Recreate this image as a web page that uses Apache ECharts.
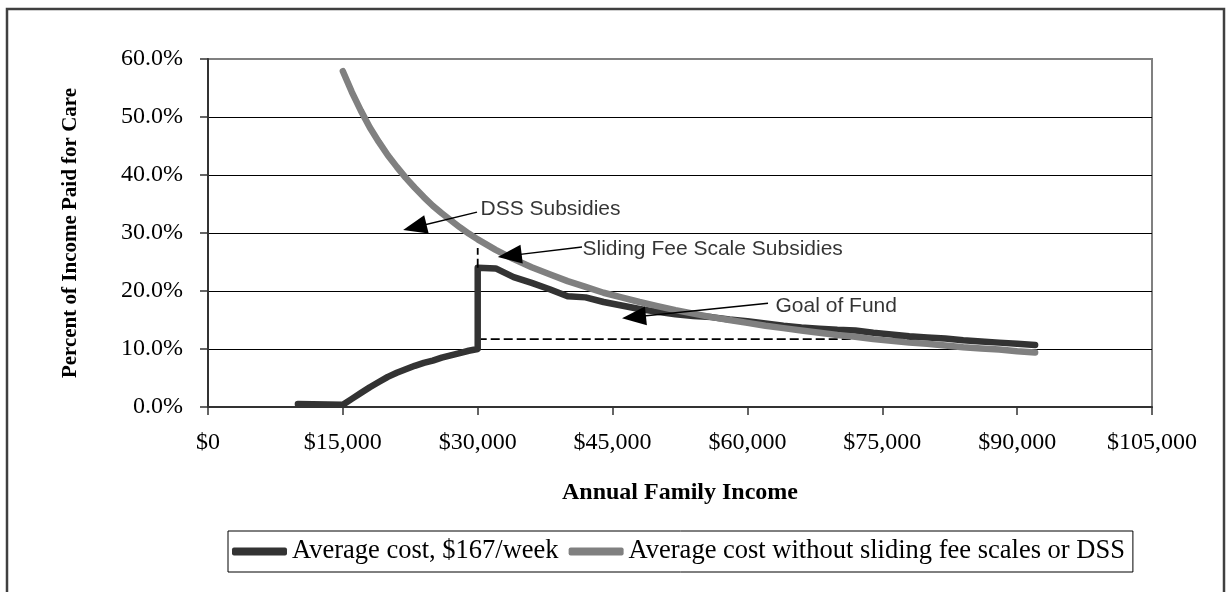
<!DOCTYPE html>
<html>
<head>
<meta charset="utf-8">
<script src="https://cdn.jsdelivr.net/npm/echarts@6/dist/echarts.min.js"></script>
<style>
  html, body { margin: 0; padding: 0; background: #ffffff; }
  #chart { width: 1231px; height: 592px; }
</style>
</head>
<body>
<div id="chart"></div>
<script>
// ---- Data ----
// Average cost, $167/week (with sliding fee scale / DSS subsidies)
const subsidizedIncome = [10000, 15000, 16000, 17000, 18000, 19000, 20000, 21000, 22000, 23000, 24000, 25000, 26000, 27000, 28000, 29000, 30000,
  30000, 32000, 34000, 36000, 38000, 40000, 42000, 44000, 46000, 48000, 50000, 52000, 54000, 56000, 58000, 60000,
  62000, 64000, 66000, 68000, 70000, 72000, 74000, 76000, 78000, 80000, 82000, 84000, 86000, 88000, 90000, 92000];
const subsidizedPct = [0.5, 0.4, 1.4, 2.4, 3.4, 4.3, 5.2, 5.9, 6.5, 7.1, 7.6, 8.0, 8.5, 8.9, 9.3, 9.7, 10.0,
  24.0, 23.9, 22.4, 21.4, 20.3, 19.1, 18.9, 18.1, 17.5, 16.9, 16.4, 16.0, 15.7, 15.5, 15.1, 14.8,
  14.4, 14.0, 13.7, 13.5, 13.3, 13.2, 12.8, 12.5, 12.2, 12.0, 11.8, 11.5, 11.3, 11.1, 10.9, 10.7];

// Average cost without sliding fee scales or DSS
const fullCostIncome = [15000, 16000, 17000, 18000, 19000, 20000, 21000, 22000, 23000, 24000, 25000, 26000, 27000, 28000, 29000, 30000,
  32000, 34000, 36000, 38000, 40000, 42000, 44000, 46000, 48000, 50000, 52000, 54000, 56000, 58000, 60000,
  62000, 64000, 66000, 68000, 70000, 72000, 74000, 76000, 78000, 80000, 82000, 84000, 86000, 88000, 90000, 92000];
const fullCostPct = [57.9, 54.3, 51.1, 48.2, 45.7, 43.4, 41.4, 39.5, 37.8, 36.2, 34.7, 33.4, 32.2, 31.0, 29.9, 28.9,
  27.1, 25.5, 24.1, 22.9, 21.7, 20.7, 19.7, 18.9, 18.1, 17.4, 16.7, 16.1, 15.5, 15.0, 14.5,
  14.0, 13.6, 13.2, 12.8, 12.4, 12.1, 11.7, 11.4, 11.1, 10.9, 10.6, 10.3, 10.1, 9.9, 9.6, 9.4];

// Dashed guide lines
const guideVerticalIncome = [30000, 30000];
const guideVerticalPct = [24.0, 27.4];
const guideHorizontalIncome = [30000, 83000];
const guideHorizontalPct = [11.7, 11.7];

// Arrow annotations (data-space)
const annotationTexts = ['DSS Subsidies', 'Sliding Fee Scale Subsidies', 'Goal of Fund'];
const annotationTextIncome = [30250, 41600, 63070];
const annotationTextPct = [34.1, 27.2, 17.4];
const arrowFromIncome = [29920, 41600, 62290];
const arrowFromPct = [33.6, 27.6, 17.9];
const arrowToIncome = [23000, 33560, 47380];
const arrowToPct = [31.0, 26.1, 15.5];

const seriesNames = ['Average cost, $167/week', 'Average cost without sliding fee scales or DSS'];
const xAxisTitle = 'Annual Family Income';
const yAxisTitle = 'Percent of Income Paid for Care';

// ---- Build ----
const zip = (a, b) => a.map((v, i) => [v, b[i]]);
const serif = "'Liberation Serif', 'Times New Roman', serif";
const sans = "'Liberation Sans', Arial, sans-serif";

const chart = echarts.init(document.getElementById('chart'), null, { renderer: 'canvas' });

const option = {
  backgroundColor: '#ffffff',
  animation: false,
  graphic: [{
    type: 'rect',
    shape: { x: 7, y: 9, width: 1217, height: 640 },
    style: { fill: 'none', stroke: '#404040', lineWidth: 2.5 },
    silent: true, z: 0
  }],
  grid: {
    left: 208, top: 59, right: 79, bottom: 185,
    show: true, borderColor: '#808080', borderWidth: 2, backgroundColor: 'transparent'
  },
  legend: {
    data: seriesNames,
    left: 228, top: 531,
    orient: 'horizontal',
    icon: 'roundRect',
    itemWidth: 55, itemHeight: 8, itemGap: 10,
    borderColor: '#000', borderWidth: 1,
    padding: [7, 8, 7, 4],
    textStyle: { fontFamily: serif, fontSize: 26.5, color: '#000' }
  },
  xAxis: {
    type: 'value', min: 0, max: 105000, interval: 15000,
    name: xAxisTitle, nameLocation: 'middle', nameGap: 74,
    nameTextStyle: { fontFamily: serif, fontSize: 24, fontWeight: 'bold', color: '#000' },
    axisLine: { show: true, onZero: false, lineStyle: { color: '#333', width: 2 } },
    axisTick: { show: true, inside: false, length: 8, lineStyle: { color: '#333', width: 1.5 } },
    axisLabel: {
      margin: 24, fontFamily: serif, fontSize: 24, color: '#000',
      formatter: v => '$' + v.toLocaleString('en-US')
    },
    splitLine: { show: false }
  },
  yAxis: {
    type: 'value', min: 0, max: 60, interval: 10,
    name: yAxisTitle, nameLocation: 'middle', nameGap: 127,
    nameTextStyle: { fontFamily: serif, fontSize: 21, fontWeight: 'bold', color: '#000' },
    axisLine: { show: true, lineStyle: { color: '#333', width: 2 } },
    axisTick: { show: true, inside: false, length: 8, lineStyle: { color: '#333', width: 1.5 } },
    axisLabel: {
      margin: 25, fontFamily: serif, fontSize: 24, color: '#000',
      formatter: v => v.toFixed(1) + '%'
    },
    splitLine: { show: true, lineStyle: { color: ['#000', '#000', '#000', '#000', '#000', '#000', '#808080'], width: 1 } }
  },
  series: [
    {
      name: seriesNames[0], type: 'line',
      data: zip(subsidizedIncome, subsidizedPct),
      symbol: 'none', showSymbol: false, smooth: false,
      lineStyle: { color: '#333333', width: 6.5, cap: 'round', join: 'round' },
      itemStyle: { color: '#333333' },
      z: 3
    },
    {
      name: seriesNames[1], type: 'line',
      data: zip(fullCostIncome, fullCostPct),
      symbol: 'none', showSymbol: false, smooth: false,
      lineStyle: { color: '#808080', width: 6.5, cap: 'round', join: 'round' },
      itemStyle: { color: '#808080' },
      z: 4
    },
    {
      name: 'guideV', type: 'line',
      data: zip(guideVerticalIncome, guideVerticalPct),
      symbol: 'none', showSymbol: false,
      lineStyle: { color: '#000', width: 1.8, type: [9, 4] },
      z: 5
    },
    {
      name: 'guideH', type: 'line',
      data: zip(guideHorizontalIncome, guideHorizontalPct),
      symbol: 'none', showSymbol: false,
      lineStyle: { color: '#000', width: 1.8, type: [9, 4] },
      z: 2
    },
    {
      name: 'annotations', type: 'scatter',
      data: annotationTexts.map((t, i) => ({ name: t, value: [annotationTextIncome[i], annotationTextPct[i]] })),
      symbolSize: 1,
      itemStyle: { color: 'rgba(0,0,0,0)' },
      label: {
        show: true, position: 'right', distance: 0, formatter: '{b}',
        fontFamily: sans, fontSize: 21, color: '#000'
      },
      silent: true,
      z: 6,
      markLine: {
        silent: true, animation: false,
        symbol: ['none', 'triangle'],
        label: { show: false },
        lineStyle: { color: '#000', width: 1.5, type: 'solid' },
        data: annotationTexts.map((t, i) => [
          { coord: [arrowFromIncome[i], arrowFromPct[i]], symbol: 'none' },
          { coord: [arrowToIncome[i], arrowToPct[i]], symbol: 'triangle', symbolSize: [19, 24] }
        ])
      }
    }
  ]
};
chart.setOption(option);
</script>
</body>
</html>
